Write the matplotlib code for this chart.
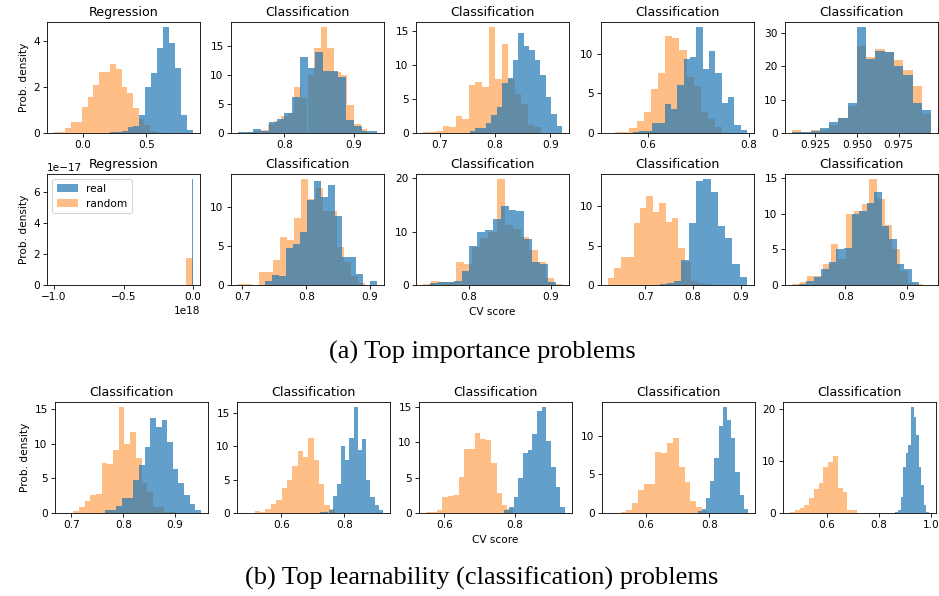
import matplotlib.pyplot as plt
from matplotlib.ticker import MaxNLocator
import numpy as np

# (a) top importance problems: 2 rows x 5 panels
imp_titles = ['Regression', 'Classification', 'Classification', 'Classification', 'Classification',
              'Regression', 'Classification', 'Classification', 'Classification', 'Classification']

# bin range (lo, hi) and bar heights (prob. density) of the "real" histograms
imp_real_ranges = [(-0.07, 0.867), (0.733, 0.934), (0.754, 0.921), (0.571, 0.797), (0.911, 0.9945),
                   (-0.008e18, 0.0), (0.735, 0.911), (0.753, 0.906), (0.73, 0.913), (0.724, 0.921)]
imp_real_heights = [
    [0.01, 0.0, 0.0, 0.0, 0.0, 0.01, 0.03, 0.04, 0.1, 0.25, 0.3, 0.77, 2.0, 2.63, 3.72, 4.6, 3.9, 2.82, 0.8, 0.15],
    [0.2, 0.1, 0.7, 0.4, 1.9, 2.5, 3.4, 6.2, 13.1, 11.3, 14.1, 10.8, 10.8, 9.7, 2.3, 1.2, 0.3, 0.4],
    [0.25, 0.7, 0.8, 1.5, 2.7, 3.8, 7.4, 8.1, 10.8, 14.8, 12.8, 12.2, 10.7, 8.6, 5.3, 2.8, 1.0],
    [0.1, 0.2, 0.3, 1.3, 1.3, 3.6, 3.0, 6.1, 9.3, 9.6, 13.3, 8.0, 10.3, 7.5, 3.8, 4.5, 1.05, 0.4],
    [0.4, 0.3, 0.5, 1.5, 3.3, 4.5, 9.1, 31.7, 22.2, 24.5, 24.2, 20.1, 17.3, 9.1, 7.0],
    [6.85e-17],
    [0.5, 1.3, 1.2, 4.7, 5.2, 6.8, 10.9, 13.3, 11.2, 12.8, 8.8, 3.6, 3.6, 1.4, 0.05, 0.5],
    [0.3, 0.5, 0.6, 0.7, 2.7, 7.3, 9.9, 10.3, 12.3, 14.8, 14.0, 13.8, 8.7, 4.4, 4.0, 0.5],
    [0.1, 0.2, 0.5, 3.2, 7.9, 13.2, 13.4, 11.8, 7.5, 6.0, 2.6, 1.0],
    [0.15, 0.6, 1.1, 2.3, 3.2, 5.1, 5.2, 9.9, 10.4, 11.5, 13.0, 8.2, 6.5, 2.9, 2.3, 0.4],
]

# same for the "random" histograms
imp_rand_ranges = [(-0.227, 0.66), (0.747, 0.92), (0.670, 0.883), (0.521, 0.748), (0.911, 0.9945),
                   (-1.0e18, 0.0), (0.693, 0.892), (0.744, 0.914), (0.622, 0.85), (0.713, 0.94)]
imp_rand_heights = [
    [0.05, 0.05, 0.22, 0.48, 0.48, 1.12, 1.56, 2.09, 2.67, 2.67, 3.02, 2.77, 2.0, 1.75, 1.09, 0.63, 0.35, 0.1, 0.03, 0.01],
    [0.2, 0.3, 0.5, 1.5, 2.0, 3.0, 3.5, 8.0, 6.0, 10.0, 14.7, 18.3, 14.8, 10.6, 10.0, 4.8, 1.6, 0.7],
    [0.15, 0.1, 0.35, 1.0, 0.85, 2.5, 2.0, 7.1, 7.5, 6.75, 15.6, 8.0, 13.2, 8.0, 5.7, 4.3, 1.2, 0.85],
    [0.05, 0.1, 0.15, 0.6, 1.5, 2.7, 5.5, 7.5, 12.2, 12.0, 10.5, 7.0, 5.9, 2.7, 1.7, 0.7],
    [0.8, 0.3, 0.8, 1.0, 2.5, 4.5, 8.1, 26.0, 22.9, 25.2, 24.2, 21.9, 19.0, 14.1, 5.7],
    [0.0, 0.0, 0.0, 0.0, 0.0, 0.0, 0.0, 0.0, 0.0, 0.0, 0.0, 0.0, 0.0, 0.0, 0.0, 0.0, 0.0, 0.0, 0.0, 1.75e-17],
    [0.15, 0.15, 0.05, 1.6, 1.6, 3.2, 6.1, 5.7, 8.6, 13.5, 11.0, 12.4, 9.5, 9.4, 4.8, 3.0, 1.2, 0.3],
    [0.2, 0.7, 0.5, 0.6, 4.4, 4.0, 7.2, 8.8, 10.0, 19.8, 11.3, 10.5, 9.0, 6.5, 4.3, 1.4, 0.2],
    [0.85, 2.2, 3.5, 3.6, 7.8, 9.7, 11.3, 9.3, 10.4, 8.0, 8.5, 4.7, 2.9, 0.5, 0.2, 0.1, 0.05],
    [0.2, 0.4, 1.2, 1.3, 2.9, 5.8, 3.6, 10.0, 10.3, 11.4, 14.8, 12.0, 8.4, 5.0, 2.0, 0.3, 0.1, 0.05],
]

# (b) top learnability (classification) problems: 1 row x 5 panels
learn_real_ranges = [(0.765, 0.950), (0.723, 0.923), (0.771, 0.943), (0.763, 0.921), (0.864, 0.993)]
learn_real_heights = [
    [0.5, 0.5, 1.0, 2.1, 2.1, 4.8, 7.0, 9.6, 13.8, 12.5, 13.5, 10.3, 6.3, 4.3, 2.6, 1.3, 0.4],
    [0.1, 0.2, 0.5, 2.6, 4.4, 10.0, 7.9, 11.2, 15.8, 9.4, 11.0, 4.9, 2.4, 1.2, 0.4],
    [0.4, 0.85, 2.3, 5.0, 8.4, 8.9, 11.1, 14.4, 14.9, 10.2, 6.5, 3.6, 0.85],
    [0.3, 0.55, 1.9, 4.2, 7.1, 11.3, 13.7, 12.0, 9.7, 5.3, 2.3, 0.55],
    [0.2, 0.6, 3.1, 8.9, 11.5, 13.1, 20.4, 18.6, 15.0, 8.9, 5.4, 1.5, 0.2],
]
learn_rand_ranges = [(0.682, 0.901), (0.481, 0.771), (0.548, 0.795), (0.485, 0.795), (0.459, 0.716)]
learn_rand_heights = [
    [0.05, 0.05, 0.3, 0.8, 1.7, 2.6, 2.8, 7.2, 7.1, 9.1, 15.3, 10.0, 11.7, 8.0, 4.3, 3.0, 0.9, 0.9, 0.2, 0.1],
    [0.05, 0.05, 0.25, 0.1, 0.55, 1.4, 1.9, 3.8, 4.9, 7.0, 9.2, 8.3, 11.2, 7.9, 4.4, 1.2, 0.6],
    [0.1, 0.2, 0.4, 2.3, 2.4, 2.5, 5.1, 9.0, 9.0, 11.3, 10.5, 10.3, 7.0, 2.8, 1.1, 0.5],
    [0.03, 0.05, 0.15, 0.35, 1.3, 3.0, 3.8, 3.8, 7.9, 7.8, 9.1, 9.7, 6.0, 4.0, 1.6, 0.8, 0.2],
    [0.25, 0.5, 1.0, 1.5, 2.9, 4.7, 5.7, 8.9, 9.9, 11.0, 4.9, 4.1, 0.65, 0.65],
]

DPI = 76
W, H = 939, 596
fig = plt.figure(figsize=(W / DPI, H / DPI), dpi=DPI)
STEPS = [1, 2, 2.5, 5, 10]


def hist_from(ax, rng, heights, color, alpha, label):
    edges = np.linspace(rng[0], rng[1], len(heights) + 1)
    centers = (edges[:-1] + edges[1:]) / 2
    ax.hist(centers, bins=edges, weights=heights, color=color, alpha=alpha, label=label)


def panel(left, top, title, real_rng, real_h, rand_rng, rand_h):
    ax = fig.add_axes([left / W, 1 - (top + 111) / H, 153 / W, 111 / H])
    hist_from(ax, rand_rng, rand_h, 'C1', 0.5, 'random')
    hist_from(ax, real_rng, real_h, 'C0', 0.7, 'real')
    ax.set_title(title)
    ax.xaxis.set_major_locator(MaxNLocator(nbins=3, steps=STEPS))
    ax.yaxis.set_major_locator(MaxNLocator(nbins=4, steps=STEPS))
    return ax


lefts_a = [47, 231, 416, 601, 785]
tops_a = [22, 174]
axes_a = []
for i in range(10):
    r, c = divmod(i, 5)
    ax = panel(lefts_a[c], tops_a[r], imp_titles[i], imp_real_ranges[i], imp_real_heights[i],
               imp_rand_ranges[i], imp_rand_heights[i])
    axes_a.append(ax)
axes_a[0].set_ylabel('Prob. density')
axes_a[5].set_ylabel('Prob. density')
axes_a[7].set_xlabel('CV score')
h, l = axes_a[5].get_legend_handles_labels()
axes_a[5].legend(h[::-1], l[::-1], loc='upper left')

lefts_b = [55, 237, 419, 602, 783]
axes_b = []
for c in range(5):
    ax = panel(lefts_b[c], 402, 'Classification', learn_real_ranges[c], learn_real_heights[c],
               learn_rand_ranges[c], learn_rand_heights[c])
    axes_b.append(ax)
axes_b[0].set_ylabel('Prob. density')
axes_b[2].set_xlabel('CV score')

fig.text(482 / W, 1 - 352 / H, '(a) Top importance problems', family='Liberation Serif',
         fontsize=25, ha='center', va='center')
fig.text(482 / W, 1 - 578 / H, '(b) Top learnability (classification) problems',
         family='Liberation Serif', fontsize=25, ha='center', va='center')

fig.savefig('out.png', dpi=DPI)
